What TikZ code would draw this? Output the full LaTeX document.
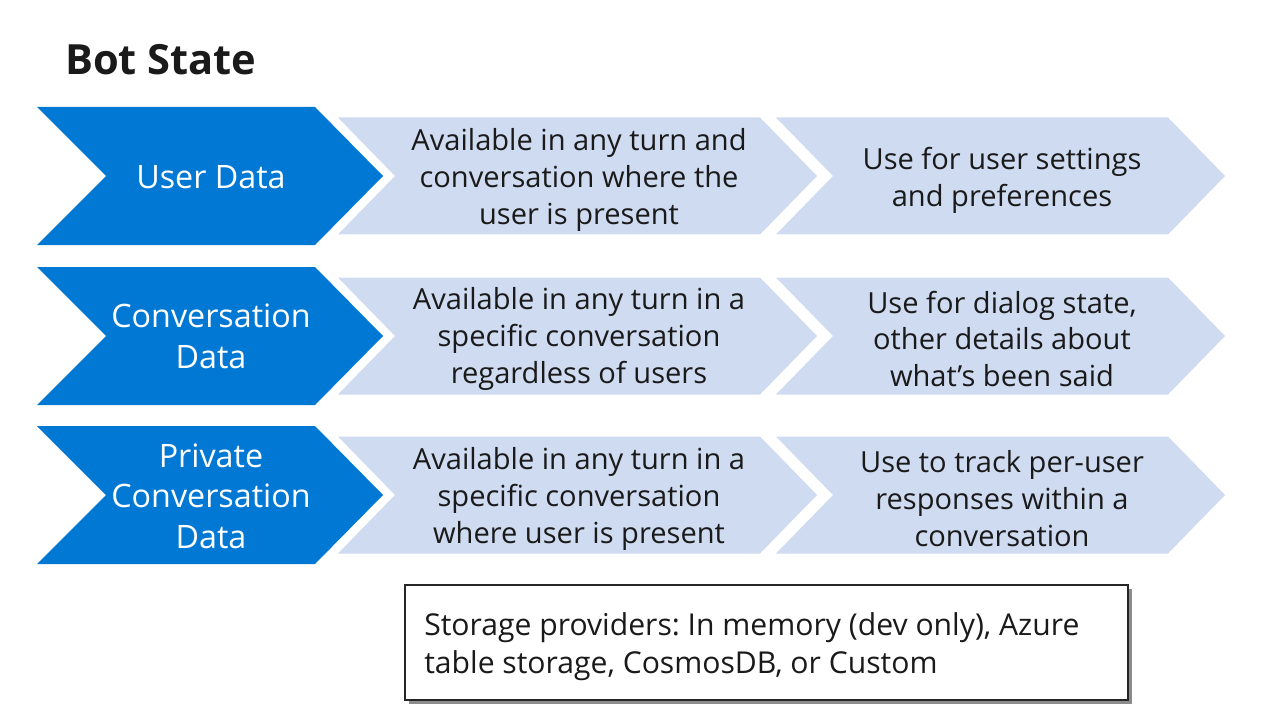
\documentclass[tikz,border=0pt]{standalone}
\usepackage{fontspec}
\setmainfont{Open Sans}
\frenchspacing
\usetikzlibrary{positioning}
\definecolor{darkblue}{HTML}{0078D4}
\definecolor{lightblue}{HTML}{CFDBF1}
\definecolor{txt}{HTML}{1A1A1A}
\tikzset{
  darkchev/.style={fill=darkblue, draw=none},
  lightchev/.style={fill=lightblue, draw=none},
  darktext/.style={text=white, align=center, font=\fontsize{24.2}{30.5}\selectfont, inner sep=0pt},
  lighttext/.style={text=txt, align=center, font=\fontsize{21.8}{27.7}\selectfont, inner sep=0pt},
}
\begin{document}
\begin{tikzpicture}[x=0.75pt,y=-0.75pt]
\useasboundingbox (0,0) rectangle (1280,720);
\fill[white] (0,0) rectangle (1280,720);
\node[anchor=west, inner sep=0pt, text=txt, font=\fontsize{31.2}{36}\selectfont\bfseries] (title) at (65,60) {Bot State};
% rows
\foreach \r/\cy in {1/176,2/336,3/495}{
  \fill[darkchev] (37,\cy-69) -- (315,\cy-69) -- (383,\cy) -- (315,\cy+69) -- (37,\cy+69) -- (106,\cy) -- cycle;
  \fill[lightchev] (338,\cy-58.5) -- (760,\cy-58.5) -- (817,\cy) -- (760,\cy+58.5) -- (338,\cy+58.5) -- (395,\cy) -- cycle;
  \fill[lightchev] (776,\cy-58.5) -- (1168,\cy-58.5) -- (1225,\cy) -- (1168,\cy+58.5) -- (776,\cy+58.5) -- (833,\cy) -- cycle;
}
\node[darktext] (d1) at (211,177) {User Data};
\node[lighttext] (a1) at (579,180) {Available in any turn and\\conversation where the\\user is present};
\node[lighttext] (b1) at (1002,180) {Use for user settings\\and preferences};
\node[darktext] (d2) at (211,336) {Conversation\\Data};
\node[lighttext] (a2) at (579,339) {Available in any turn in a\\specific conversation\\regardless of users};
\node[lighttext] (b2) at (1002,339) {Use for dialog state,\\other details about\\what’s been said};
\node[darktext] (d3) at (211,496) {Private\\Conversation\\Data};
\node[lighttext] (a3) at (579,499) {Available in any turn in a\\specific conversation\\where user is present};
\node[lighttext] (b3) at (1002,499) {Use to track per-user\\responses within a\\conversation};
% storage box
\fill[black!45] (409,589) rectangle (1132,704);
\draw[fill=white, draw=black!85, line width=0.9pt] (405,585) rectangle (1128,700);
\node[anchor=west, align=left, text=txt, inner sep=0pt, font=\fontsize{22.6}{28.5}\selectfont] (store) at (424,647) {Storage providers: In memory (dev only), Azure\\table storage, CosmosDB, or Custom};
\end{tikzpicture}
\end{document}
